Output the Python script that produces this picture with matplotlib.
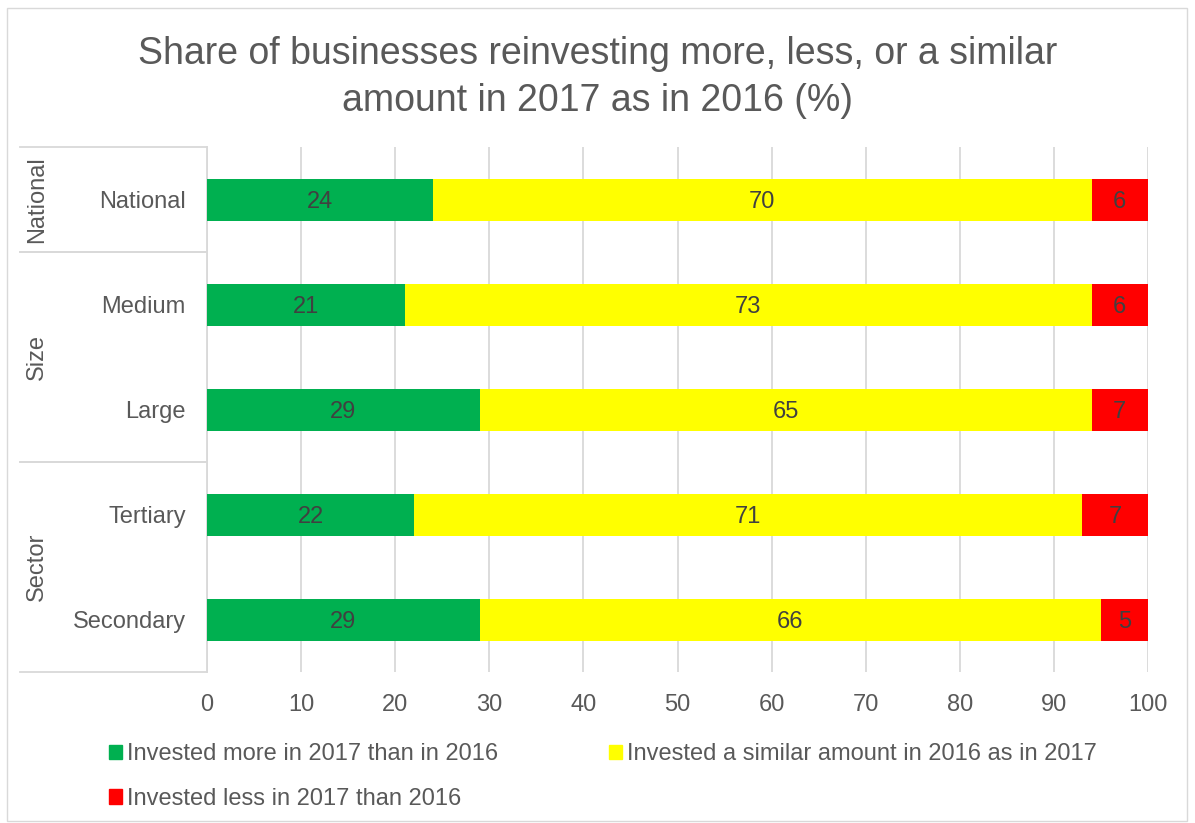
import numpy as np
import matplotlib.pyplot as plt
from matplotlib.lines import Line2D
from matplotlib.patches import Patch, Rectangle

plt.rcParams['font.family'] = ['Liberation Sans', 'DejaVu Sans']

# Data (%), top to bottom
categories = ['National', 'Medium', 'Large', 'Tertiary', 'Secondary']
more = [24, 21, 29, 22, 29]
similar = [70, 73, 65, 71, 66]
less = [6, 6, 7, 7, 5]
groups = [('National', 0, 0), ('Size', 1, 2), ('Sector', 3, 4)]
series_names = ['Invested more in 2017 than in 2016',
                'Invested a similar amount in 2016 as in 2017',
                'Invested less in 2017 than 2016']
colors = ['#00B050', '#FFFF00', '#FF0000']

TEXT = '#595959'
GRID = '#D9D9D9'
W, H = 1195, 823

fig = plt.figure(figsize=(W / 100, H / 100), dpi=100)
fig.patches.append(Rectangle((7 / W, 2 / H), 1180 / W, 813 / H, transform=fig.transFigure,
                             fill=False, edgecolor=GRID, linewidth=1))

ax = fig.add_axes([207 / W, 1 - 672 / H, 941 / W, 525 / H])
y = np.arange(len(categories))
left = np.zeros(len(categories))
for vals, col in zip([more, similar, less], colors):
    ax.barh(y, vals, left=left, height=0.4, color=col, zorder=3)
    # value labels in the middle of each segment (clipped to the 100 edge)
    for yi, l, v in zip(y, left, vals):
        xc = (l + min(l + v, 100)) / 2
        ax.text(xc, yi, str(v), ha='center', va='center_baseline',
                fontsize=17, color='#404040', zorder=4)
    left += np.array(vals)

ax.set_xlim(0, 100)
ax.set_ylim(len(categories) - 0.5, -0.5)
ax.set_xticks(np.arange(0, 101, 10))
ax.set_yticks(y)
ax.set_yticklabels(categories)
ax.tick_params(axis='both', length=0, labelsize=17, labelcolor=TEXT)
ax.tick_params(axis='x', pad=16)
ax.tick_params(axis='y', pad=21)
for lbl in ax.get_yticklabels():
    lbl.set_x(8 / 941)
ax.grid(axis='x', color=GRID, linewidth=1.3, zorder=0)
for side in ['top', 'right', 'bottom']:
    ax.spines[side].set_visible(False)
ax.spines['left'].set_color(GRID)
ax.spines['left'].set_linewidth(1.3)

# Group brackets on the left of the category labels
x0 = (20 - 207) / 941
for name, a, b in groups:
    top, bot = a - 0.5, b + 0.5
    ax.add_line(Line2D([x0, 0], [top, top], transform=ax.get_yaxis_transform(),
                       color=GRID, linewidth=1.3, clip_on=False))
    ax.add_line(Line2D([x0, 0], [bot, bot], transform=ax.get_yaxis_transform(),
                       color=GRID, linewidth=1.3, clip_on=False))
    ax.text((37 - 207) / 941, (a + b) / 2, name, transform=ax.get_yaxis_transform(),
            rotation=90, ha='center', va='center', fontsize=17, color=TEXT)

fig.suptitle('Share of businesses reinvesting more, less, or a similar\namount in 2017 as in 2016 (%)',
             x=0.5, y=1 - 36 / H, va='top', fontsize=27, color=TEXT, linespacing=1.38)

handles = [Patch(color=colors[0]), Patch(color=colors[2]), Patch(color=colors[1])]
labels = [series_names[0], series_names[2], series_names[1]]
fig.legend(handles, labels, ncol=2, loc='upper left', bbox_to_anchor=(100 / W, 1 - 734 / H),
           frameon=False, fontsize=17, labelcolor=TEXT, handlelength=0.55, handleheight=0.55,
           handletextpad=0.2, columnspacing=4.7, labelspacing=0.95, borderaxespad=0)

fig.savefig('out.png', dpi=100)
